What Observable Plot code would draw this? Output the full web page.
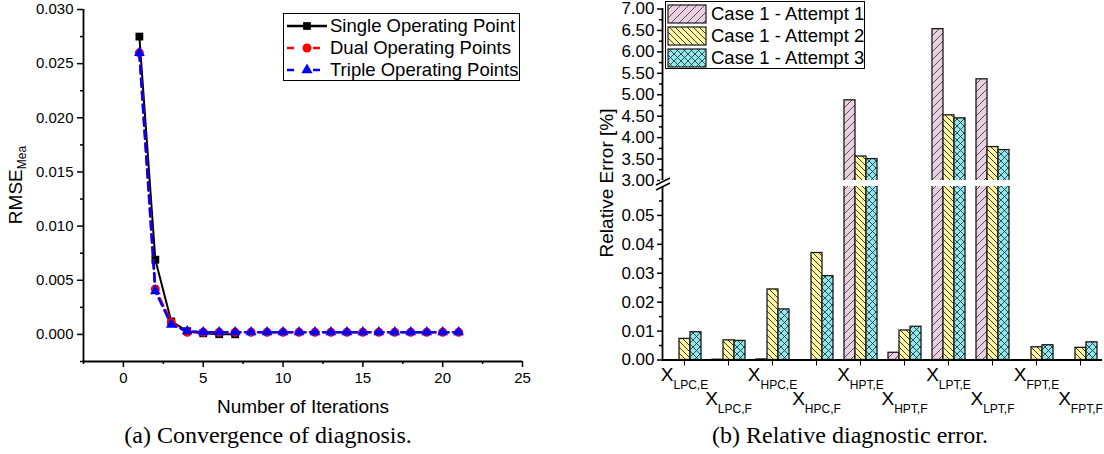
<!DOCTYPE html>
<html><head><meta charset="utf-8">
<script src="https://cdn.jsdelivr.net/npm/d3@7"></script>
<script src="https://cdn.jsdelivr.net/npm/@observablehq/plot@0.6"></script>
<style>
html,body{margin:0;padding:0;background:#fff;}
#root{position:relative;width:1104px;height:454px;overflow:hidden;font-family:"Liberation Sans",Arial,sans-serif;color:#000;background:#fff;}
.abs{position:absolute;}
.cap{position:absolute;font-family:"Liberation Serif","Times New Roman",serif;font-size:24px;line-height:24px;white-space:nowrap;transform:translateX(-50%);}
.ylab{position:absolute;font-size:19px;line-height:19px;white-space:nowrap;transform:translate(-50%,-50%) rotate(-90deg);}
.legend{position:absolute;border:1.3px solid #000;background:#fff;box-sizing:border-box;}
.lrow{position:absolute;left:0;height:22px;font-size:18.5px;line-height:22px;white-space:nowrap;}
.lrow svg{position:absolute;top:0;}
.lrow span{position:absolute;top:0;}
</style></head>
<body>
<svg width="0" height="0" style="position:absolute">
  <defs>
    <pattern id="p1" patternUnits="userSpaceOnUse" width="8" height="8">
      <rect width="8" height="8" fill="#ebd0e2"/>
      <path d="M0,8 L8,0 M-2,2 L2,-2 M6,10 L10,6" stroke="#444" stroke-width="0.9"/>
    </pattern>
    <pattern id="p2" patternUnits="userSpaceOnUse" width="6" height="6">
      <rect width="6" height="6" fill="#fff6a3"/>
      <path d="M0,0 L6,6 M-2,4 L2,8 M4,-2 L8,2" stroke="#222" stroke-width="0.9"/>
    </pattern>
    <pattern id="p3" patternUnits="userSpaceOnUse" width="7" height="7">
      <rect width="7" height="7" fill="#8fe8ee"/>
      <path d="M0,0 L7,7 M-2,5 L2,9 M5,-2 L9,2 M0,7 L7,0 M-2,2 L2,-2 M5,9 L9,5" stroke="#222" stroke-width="0.8"/>
    </pattern>
  </defs>
</svg>
<div id="root"></div>
<script>
// ---------- Left chart data ----------
const singleIter = [1, 2, 3, 4, 5, 6, 7];
const singleRmse = [0.0275, 0.0069, 0.0012, 0.0003, 0.0001, 0.00002, 0.00001];
const multiIter = [1, 2, 3, 4, 5, 6, 7, 8, 9, 10, 11, 12, 13, 14, 15, 16, 17, 18, 19, 20, 21];
const dualRmse = [0.0260, 0.0042, 0.0011, 0.0002, 0.0002, 0.0002, 0.0002, 0.0002, 0.0002, 0.0002, 0.0002, 0.0002, 0.0002, 0.0002, 0.0002, 0.0002, 0.0002, 0.0002, 0.0002, 0.0002, 0.0002];
const tripleRmse = [0.0260, 0.0040, 0.0009, 0.0003, 0.0002, 0.0002, 0.0002, 0.0002, 0.0002, 0.0002, 0.0002, 0.0002, 0.0002, 0.0002, 0.0002, 0.0002, 0.0002, 0.0002, 0.0002, 0.0002, 0.0002];
const leftSeries = ["Single Operating Point", "Dual Operating Points", "Triple Operating Points"];
const leftXTicks = [0, 5, 10, 15, 20, 25];
const leftXMinor = [-2.5, 2.5, 7.5, 12.5, 17.5, 22.5];
const leftYTicks = [0, 0.005, 0.010, 0.015, 0.020, 0.025, 0.030];
const leftYMinor = [-0.0025, 0.0025, 0.0075, 0.0125, 0.0175, 0.0225, 0.0275];

// ---------- Right chart data ----------
const categories = ["LPC,E", "LPC,F", "HPC,E", "HPC,F", "HPT,E", "HPT,F", "LPT,E", "LPT,F", "FPT,E", "FPT,F"];
const series = ["Case 1 - Attempt 1", "Case 1 - Attempt 2", "Case 1 - Attempt 3"];
const attempt1 = [0, 0.0001, 0.0002, 0, 4.87, 0.0025, 6.53, 5.36, 0, 0];
const attempt2 = [0.0073, 0.0068, 0.0244, 0.0370, 3.56, 0.0102, 4.52, 3.78, 0.0044, 0.0042];
const attempt3 = [0.0096, 0.0066, 0.0175, 0.0290, 3.50, 0.0115, 4.45, 3.71, 0.0051, 0.0061];
const upperTicks = [3, 3.5, 4, 4.5, 5, 5.5, 6, 6.5, 7];
const upperMinor = [3.25, 3.75, 4.25, 4.75, 5.25, 5.75, 6.25, 6.75];
const lowerTicks = [0, 0.01, 0.02, 0.03, 0.04, 0.05];
const lowerMinor = [0.005, 0.015, 0.025, 0.035, 0.045, 0.055];

const patterns = ["url(#p1)", "url(#p2)", "url(#p3)"];
const root = document.getElementById("root");
const FONT = "'Liberation Sans', Arial, sans-serif";

// ---------- Left chart ----------
const singleData = singleIter.map((x, i) => ({x, y: singleRmse[i]}));
const dualData = multiIter.map((x, i) => ({x, y: dualRmse[i]}));
const tripleData = multiIter.map((x, i) => ({x, y: tripleRmse[i]}));

const leftChart = Plot.plot({
  width: 540, height: 454,
  marginLeft: 83, marginRight: 18, marginTop: 9, marginBottom: 93,
  style: {fontSize: "15px", fontFamily: FONT, color: "#000", background: "transparent", overflow: "visible"},
  x: {domain: [-2.5, 25]},
  y: {domain: [-0.0025, 0.030]},
  marks: [
    Plot.axisX({ticks: leftXTicks, tickSize: 6, tickPadding: 5, strokeWidth: 1.5, label: "Number of Iterations", labelAnchor: "center", labelArrow: false, labelOffset: 51}),
    Plot.axisX({ticks: leftXMinor, tickSize: 3, strokeWidth: 1.5, tickFormat: () => "", label: null}),
    Plot.axisY({ticks: leftYTicks, tickSize: 6, tickPadding: 4, strokeWidth: 1.5, tickFormat: d3.format(".3f"), label: null}),
    Plot.axisY({ticks: leftYMinor, tickSize: 3, strokeWidth: 1.5, tickFormat: () => "", label: null}),
    Plot.ruleX([-2.5], {strokeWidth: 1.8}),
    Plot.ruleY([-0.0025], {strokeWidth: 1.8}),
    Plot.line(singleData, {x: "x", y: "y", stroke: "#000", strokeWidth: 2}),
    Plot.dot(singleData, {x: "x", y: "y", symbol: "square", fill: "#000", r: 4.4}),
    Plot.line(dualData, {x: "x", y: "y", stroke: "#ff0000", strokeWidth: 2.6, strokeDasharray: "8,5"}),
    Plot.dot(dualData, {x: "x", y: "y", symbol: "circle", fill: "#ff0000", r: 4.5}),
    Plot.line(tripleData, {x: "x", y: "y", stroke: "#0000ff", strokeWidth: 2.6, strokeDasharray: "8,5"}),
    Plot.dot(tripleData, {x: "x", y: "y", symbol: "triangle", fill: "#0000ff", r: 4})
  ]
});
leftChart.style.position = "absolute"; leftChart.style.left = "0px"; leftChart.style.top = "0px";
root.appendChild(leftChart);
d3.select(leftChart).selectAll('g[aria-label="x-axis label"] text')
  .style("font-size", "19px").text("Number of Iterations");

// ---------- Right chart ----------
const values = [attempt1, attempt2, attempt3];
const barData = categories.flatMap((c, i) => series.map((s, j) => ({cat: c, series: s, value: values[j][i]})));

function barPanel(opts) {
  return Plot.plot({
    width: 544, height: opts.height,
    marginLeft: 102, marginRight: 2, marginTop: opts.marginTop, marginBottom: opts.marginBottom,
    style: {fontSize: "17px", fontFamily: FONT, color: "#000", background: "transparent", overflow: "visible"},
    fx: {domain: categories, padding: 0, label: null, axis: opts.fxAxis, tickSize: 6, tickPadding: 3},
    x: {domain: series, axis: null, paddingInner: 0, paddingOuter: 0.36},
    y: {domain: opts.domain, axis: null},
    color: {type: "ordinal", domain: series, range: patterns},
    marks: [
      Plot.barY(barData, {fx: "cat", x: "series", y1: 0, y2: "value", fill: "series", stroke: "#1a1a1a", strokeWidth: 1.3, clip: true, inset: 0}),
      ...(opts.baseline ? [Plot.ruleY([0], {strokeWidth: 1.8})] : []),
      Plot.axisY({ticks: opts.ticks, tickSize: 5, tickPadding: 3, strokeWidth: 1.5, tickFormat: d3.format(".2f"), label: null}),
      Plot.axisY({ticks: opts.minor, tickSize: 3, strokeWidth: 1.5, tickFormat: () => "", label: null}),
      Plot.frame({anchor: "left", facetAnchor: "left", strokeWidth: 1.8})
    ]
  });
}

const upperPanel = barPanel({height: 181, marginTop: 8.5, marginBottom: 1, domain: [3, 7], ticks: upperTicks, minor: upperMinor, fxAxis: null, baseline: false});
upperPanel.style.position = "absolute"; upperPanel.style.left = "560px"; upperPanel.style.top = "0px";
root.appendChild(upperPanel);

const lowerPanel = barPanel({height: 268, marginTop: 0, marginBottom: 94.5, domain: [0, 0.06], ticks: lowerTicks, minor: lowerMinor, fxAxis: "bottom", baseline: true});
lowerPanel.style.position = "absolute"; lowerPanel.style.left = "560px"; lowerPanel.style.top = "186px";
root.appendChild(lowerPanel);

// subscripted category labels, staggered in two rows
d3.select(lowerPanel).selectAll('g[aria-label="fx-axis tick label"] text').each(function() {
  const t = d3.select(this);
  const name = t.text();
  const idx = categories.indexOf(name);
  t.text("");
  t.append("tspan").attr("font-size", "19px").text("X");
  t.append("tspan").attr("font-size", "12px").attr("dy", "8").text(name);
  if (idx % 2 === 1) {
    const tr = t.attr("transform") || "";
    t.attr("transform", tr + " translate(0,24)");
  }
});

// axis break mark
const brk = d3.select(root).append("svg").attr("class", "abs")
  .style("left", "652px").style("top", "174px").attr("width", 22).attr("height", 20);
brk.append("rect").attr("x", 8).attr("y", 6).attr("width", 4).attr("height", 6).attr("fill", "#fff");
brk.append("path").attr("d", "M4,11 L18,4 M4,16 L18,9").attr("stroke", "#000").attr("stroke-width", 1.5).attr("fill", "none");

// ---------- Legends ----------
function addLegendLeft() {
  const box = d3.select(root).append("div").attr("class", "legend")
    .style("left", "283px").style("top", "13px").style("width", "237px").style("height", "68px");
  const styles = [
    {stroke: "#000", dash: null, sym: d3.symbolSquare, size: 60, fill: "#000"},
    {stroke: "#ff0000", dash: "7,19", sym: d3.symbolCircle, size: 64, fill: "#ff0000"},
    {stroke: "#0000ff", dash: "7,19", sym: d3.symbolTriangle, size: 55, fill: "#0000ff"}
  ];
  leftSeries.forEach((name, i) => {
    const row = box.append("div").attr("class", "lrow").style("top", (1 + i * 22) + "px").style("width", "100%");
    const s = row.append("svg").attr("width", 44).attr("height", 22).style("left", "2px");
    const st = styles[i];
    s.append("line").attr("x1", 1).attr("x2", 41).attr("y1", 11).attr("y2", 11)
      .attr("stroke", st.stroke).attr("stroke-width", 2.6).attr("stroke-dasharray", st.dash);
    s.append("path").attr("d", d3.symbol(st.sym, st.size)()).attr("transform", "translate(21,11)").attr("fill", st.fill);
    row.append("span").style("left", "46px").text(name);
  });
}
function addLegendRight() {
  const box = d3.select(root).append("div").attr("class", "legend")
    .style("left", "665px").style("top", "1px").style("width", "200px").style("height", "68px");
  series.forEach((name, i) => {
    const row = box.append("div").attr("class", "lrow").style("top", (1 + i * 22) + "px").style("width", "100%");
    const s = row.append("svg").attr("width", 42).attr("height", 22).style("left", "1px");
    s.append("rect").attr("x", 1).attr("y", 2).attr("width", 38).attr("height", 18)
      .attr("fill", patterns[i]).attr("stroke", "#1a1a1a").attr("stroke-width", 1.2);
    row.append("span").style("left", "45px").text(name);
  });
}
addLegendLeft();
addLegendRight();

// ---------- Axis titles and captions ----------
const yl = d3.select(root).append("div").attr("class", "ylab").style("left", "19px").style("top", "185px");
yl.append("span").text("RMSE");
yl.append("sub").style("font-size", "12px").text("Mea");
d3.select(root).append("div").attr("class", "ylab").style("left", "606px").style("top", "183px").text("Relative Error [%]");
d3.select(root).append("div").attr("class", "cap").style("left", "268px").style("top", "423px").text("(a) Convergence of diagnosis.");
d3.select(root).append("div").attr("class", "cap").style("left", "850px").style("top", "423px").text("(b) Relative diagnostic error.");
</script>
</body></html>
